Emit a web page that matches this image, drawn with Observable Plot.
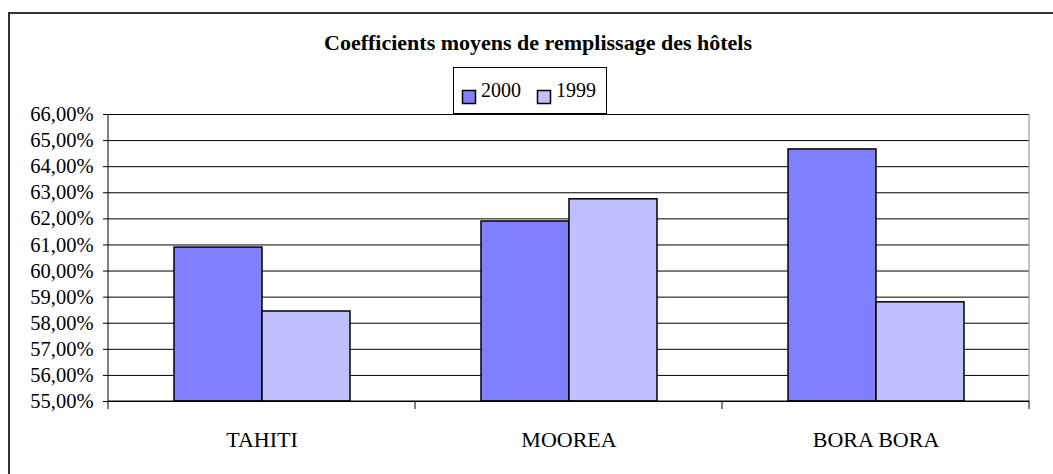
<!DOCTYPE html>
<html><head><meta charset="utf-8">
<script src="https://cdn.jsdelivr.net/npm/d3@7"></script>
<script src="https://cdn.jsdelivr.net/npm/@observablehq/plot@0.6"></script>
<style>
body{margin:0;background:#fff;}
#wrap{position:relative;width:1053px;height:474px;overflow:hidden;}
#frame{position:absolute;left:8px;top:12px;width:1100px;height:520px;border-top:2px solid #333;border-left:2px solid #333;pointer-events:none;}
</style>
</head><body>
<div id="wrap"><div id="frame"></div><div id="chart"></div></div>
<script>
const islands = ["TAHITI", "MOOREA", "BORA BORA"];
const series = ["2000", "1999"];
const values2000 = [60.9, 61.9, 64.66];
const values1999 = [58.45, 62.75, 58.8];
const yTicks = [55, 56, 57, 58, 59, 60, 61, 62, 63, 64, 65, 66];
const colors = ["#8080FF", "#C0C0FF"];
const title = "Coefficients moyens de remplissage des hôtels";

const data = islands.flatMap((island, i) => [
  {island, year: series[0], value: values2000[i]},
  {island, year: series[1], value: values1999[i]}
]);
const fmt = d => d.toFixed(2).replace(".", ",") + "%";
const FONT = "'Liberation Serif', 'Times New Roman', 'DejaVu Serif', serif";

const plot = Plot.plot({
  width: 1053, height: 474,
  marginTop: 114, marginBottom: 73, marginLeft: 108, marginRight: 24,
  style: {background: "transparent", fontFamily: FONT, fontSize: "20.5px", color: "#000"},
  fx: {domain: islands, paddingInner: 0, paddingOuter: 0, label: null, axis: "bottom", tickSize: 0, tickPadding: 30},
  x: {domain: series, paddingInner: 0, paddingOuter: 0.744, axis: null},
  y: {domain: [yTicks[0], yTicks[yTicks.length - 1]], ticks: 11, tickFormat: fmt, label: null, tickSize: 5, tickPadding: 10},
  color: {domain: series, range: colors},
  marks: [
    Plot.ruleY(yTicks, {stroke: "#000", strokeWidth: 1}),
    Plot.barY(data, {fx: "island", x: "year", y1: yTicks[0], y2: "value", fill: "year", stroke: "#000", strokeWidth: 1.5})
  ]
});
document.getElementById("chart").appendChild(plot);

const svg = d3.select(plot);
svg.selectAll("text").style("font-family", FONT);
svg.selectAll("text").filter(function() { return islands.includes(this.textContent); }).style("font-size", "22px");
const fxS = plot.scale("fx"), yS = plot.scale("y"), cS = plot.scale("color");
const y0 = yS.apply(yTicks[0]), y1 = yS.apply(yTicks[yTicks.length - 1]);
const bounds = islands.map(d => fxS.apply(d));
bounds.push(bounds[bounds.length - 1] + fxS.step);
const xL = bounds[0], xR = bounds[bounds.length - 1];
const g = svg.append("g");
g.append("line").attr("x1", xR).attr("x2", xR).attr("y1", y1).attr("y2", y0).attr("stroke", "#888");
g.append("line").attr("x1", xL).attr("x2", xL).attr("y1", y1).attr("y2", y0).attr("stroke", "#000");
g.append("line").attr("x1", xL).attr("x2", xR).attr("y1", y0).attr("y2", y0).attr("stroke", "#000");
g.selectAll("line.tk").data(bounds).join("line").attr("class", "tk")
  .attr("x1", d => d).attr("x2", d => d).attr("y1", y0).attr("y2", y0 + 8).attr("stroke", "#000");

// title
svg.append("text").attr("x", 538).attr("y", 50).attr("text-anchor", "middle")
  .style("font-family", FONT).attr("font-weight", "bold").style("font-size", "22px").text(title);

// legend
const lg = svg.append("g").style("font-family", FONT).style("font-size", "20px").attr("text-anchor", "start");
lg.append("rect").attr("x", 453.5).attr("y", 67.5).attr("width", 153).attr("height", 46).attr("fill", "#fff").attr("stroke", "#000");
const lx = [462, 537];
series.forEach((s, i) => {
  lg.append("rect").attr("x", lx[i] + 0.5).attr("y", 90.5).attr("width", 13).attr("height", 13).attr("fill", cS.apply(s)).attr("stroke", "#000").attr("stroke-width", 1.5);
  lg.append("text").attr("x", lx[i] + 19).attr("y", 97).attr("text-anchor", "start").style("font-family", FONT).style("font-size", "20px").text(s);
});
</script>
</body></html>
